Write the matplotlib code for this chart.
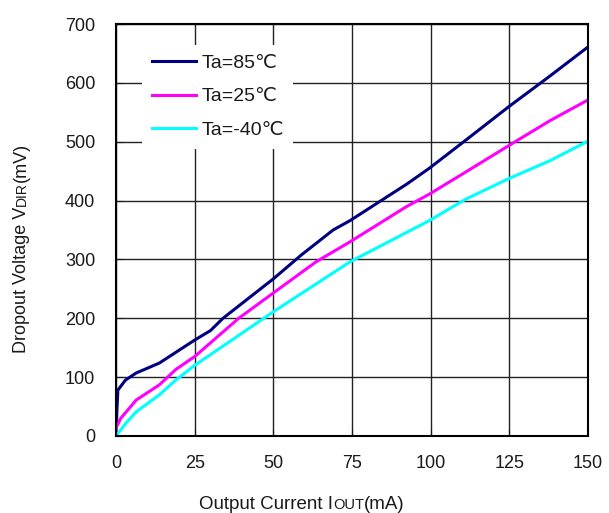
import numpy as np
import matplotlib.pyplot as plt

plt.rcParams['font.family'] = ['Liberation Sans', 'DejaVu Sans']

# output current (mA) and dropout voltage (mV) per temperature
i_85 = [0, 0.3, 0.6, 3, 6.4, 13.8, 25, 30, 34, 50, 59, 69, 74.4, 92.4, 99.6, 111, 124.7, 138, 150]
v_85 = [0, 45, 78, 95, 107, 124, 163, 179, 200, 267, 308, 350, 366, 428, 455, 502, 559, 612, 661]

i_25 = [0, 0.2, 1.5, 6.4, 13.8, 19, 25, 39, 50, 63.6, 74.4, 92.4, 99.6, 111, 124.7, 138, 150]
v_25 = [0, 16, 30, 61, 87, 113, 135, 200, 243, 296, 330, 390, 411, 448, 493, 536, 571]

i_m40 = [0, 3.2, 6.4, 13.8, 19, 25, 50, 74.4, 92.4, 99.6, 111, 124.7, 138, 150]
v_m40 = [0, 22, 41, 70, 95, 120, 211, 296, 346, 366, 402, 437, 468, 501]

labels = ['Ta=85\u2103', 'Ta=25\u2103', 'Ta=-40\u2103']
colors = ['#000080', '#ff00ff', '#00ffff']
xticks = [0, 25, 50, 75, 100, 125, 150]
yticks = [0, 100, 200, 300, 400, 500, 600, 700]

W, H = 609, 513
fig = plt.figure(figsize=(W / 100, H / 100), dpi=100)
ax = fig.add_axes([116 / W, (H - 436) / H, (588 - 116) / W, (436 - 24) / H])

for xs, ys, lab, c in zip([i_85, i_25, i_m40], [v_85, v_25, v_m40], labels, colors):
    ax.plot(xs, ys, color=c, lw=2.2, label=lab)

ax.set_xlim(0, 150)
ax.set_ylim(0, 700)
ax.set_xticks(xticks)
ax.set_yticks(yticks)
ax.grid(True, color='#222222', lw=1.0)
ax.tick_params(direction='in', length=5, labelsize=13, colors='#1a1a1a')
ax.tick_params(axis='y', pad=15)
ax.tick_params(axis='x', pad=14)
for s in ax.spines.values():
    s.set_linewidth(1.5)

leg = ax.legend(loc='upper left', bbox_to_anchor=(0.055, 0.95), frameon=True,
                fancybox=False, facecolor='white', edgecolor='white', framealpha=1,
                fontsize=14, handlelength=2.3, handletextpad=0.25,
                labelspacing=0.82, borderpad=0.5, borderaxespad=0)
leg.get_frame().set_linewidth(0)
for t in leg.get_texts():
    t.set_color('#1a1a1a')

# axis labels with smaller subscript-like parts on the baseline
renderer = fig.canvas.get_renderer()

def widths(pieces):
    out = []
    for txt, sz in pieces:
        t = fig.text(0, 0, txt, fontsize=sz)
        out.append(t.get_window_extent(renderer).width)
        t.remove()
    return out

xl = [('Output Current I', 13.5), ('OUT', 10.5), ('(mA)', 13.5)]
ws = widths(xl)
x0 = 302 - sum(ws) / 2
for (txt, sz), w in zip(xl, ws):
    fig.text(x0 / W, 4 / H, txt, fontsize=sz, ha='left', va='baseline', color='#1a1a1a')
    x0 += w

yl = [('Dropout Voltage V', 13), ('DIR', 10), ('(mV)', 13)]
ws = widths(yl)
y0 = (H - 248) - sum(ws) / 2
for (txt, sz), w in zip(yl, ws):
    fig.text(26 / W, y0 / H, txt, fontsize=sz, ha='left', va='baseline',
             rotation=90, rotation_mode='anchor', color='#1a1a1a')
    y0 += w

fig.savefig('out.png', dpi=100)
